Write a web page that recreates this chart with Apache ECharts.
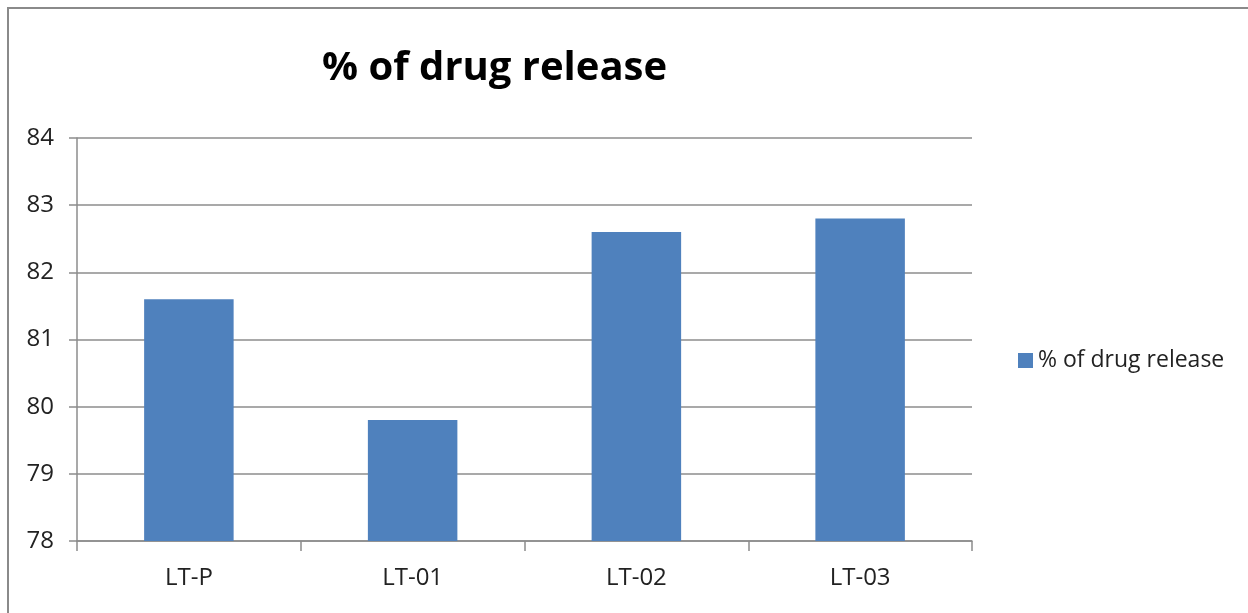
<!DOCTYPE html>
<html>
<head>
<meta charset="utf-8">
<script src="https://cdn.jsdelivr.net/npm/echarts@6/dist/echarts.min.js"></script>
<style>
  body { margin: 0; background: #fff; }
  #wrap { position: relative; width: 1248px; height: 613px; overflow: hidden; }
  #frame { position: absolute; left: 7px; top: 7px; width: 1300px; height: 700px;
           border-left: 2px solid #8a8a8a; border-top: 2px solid #8a8a8a; }
  #chart { position: absolute; left: 0; top: 0; width: 1248px; height: 613px; }
</style>
</head>
<body>
<div id="wrap">
  <div id="frame"></div>
  <div id="chart"></div>
</div>
<script>
const categories = ['LT-P', 'LT-01', 'LT-02', 'LT-03']
const drugRelease = [81.6, 79.8, 82.6, 82.8]
const seriesName = '% of drug release'

const labelFont = "'Open Sans', sans-serif"
const gridColor = '#8c8c8c'

const chart = echarts.init(document.getElementById('chart'))
chart.setOption({
  animation: false,
  title: {
    text: '% of drug release',
    left: 317,
    top: 44,
    textStyle: {
      fontFamily: "'Open Sans', sans-serif",
      fontWeight: 'bold',
      fontSize: 40,
      color: '#000'
    }
  },
  legend: {
    data: [seriesName],
    left: 1013,
    top: 344,
    icon: 'rect',
    itemWidth: 15,
    itemHeight: 15,
    itemGap: 6,
    textStyle: { fontFamily: labelFont, fontSize: 23, color: '#222' }
  },
  grid: { left: 77, top: 138, right: 276, bottom: 72 },
  xAxis: {
    type: 'category',
    data: categories,
    axisLine: { lineStyle: { color: gridColor, width: 1.5 } },
    axisTick: { show: true, length: 10, lineStyle: { color: gridColor, width: 1.5 } },
    axisLabel: { fontFamily: labelFont, fontSize: 24, color: '#222', margin: 25 }
  },
  yAxis: {
    type: 'value',
    min: 78,
    max: 84,
    interval: 1,
    axisLine: { show: true, lineStyle: { color: gridColor, width: 1.5 } },
    axisTick: { show: true, length: 8, lineStyle: { color: gridColor, width: 1.5 } },
    axisLabel: { fontFamily: labelFont, fontSize: 24, color: '#222', margin: 23 },
    splitLine: { lineStyle: { color: gridColor, width: 1.5 } }
  },
  series: [{
    name: seriesName,
    type: 'bar',
    data: drugRelease,
    barWidth: '40%',
    itemStyle: { color: '#4F81BD' }
  }]
})
</script>
</body>
</html>
